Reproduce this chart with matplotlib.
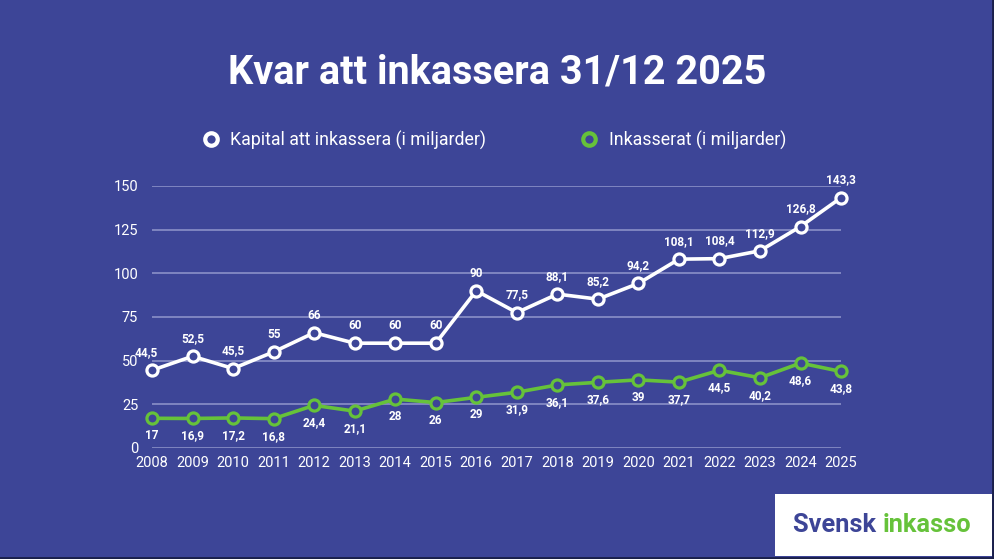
import matplotlib.pyplot as plt
from matplotlib.patches import Rectangle
from matplotlib.lines import Line2D

plt.rcParams['font.family'] = ['Roboto', 'DejaVu Sans']

years = list(range(2008, 2026))
kapital = [44.5, 52.5, 45.5, 55, 66, 60, 60, 60, 90, 77.5, 88.1, 85.2, 94.2,
           108.1, 108.4, 112.9, 126.8, 143.3]
inkasserat = [17, 16.9, 17.2, 16.8, 24.4, 21.1, 28, 26, 29, 31.9, 36.1, 37.6,
              39, 37.7, 44.5, 40.2, 48.6, 43.8]
y_ticks = [0, 25, 50, 75, 100, 125, 150]

BG = "#3d4597"
GREEN = "#66c23a"
GRID = "#8a90c8"


def fmt(v):
    s = f"{v:g}"
    return s.replace(".", ",")


fig = plt.figure(figsize=(9.95, 5.59), dpi=100, facecolor=BG)
ax = fig.add_axes([0.1528, 0.1986, 0.6925, 0.4687], facecolor=BG)

ax.plot(years, kapital, color="white", lw=2.6, marker="o", ms=8,
        mfc=BG, mec="white", mew=2.3, clip_on=False, zorder=3)
ax.plot(years, inkasserat, color=GREEN, lw=2.6, marker="o", ms=8,
        mfc=BG, mec=GREEN, mew=2.3, clip_on=False, zorder=3)

for x, v in zip(years, kapital):
    dx = -4 if x == 2008 else 0
    ax.annotate(fmt(v), (x, v), xytext=(dx, 8), textcoords="offset points",
                ha="center", va="bottom", color="white", fontsize=8.5,
                fontweight="bold")
for x, v in zip(years, inkasserat):
    ax.annotate(fmt(v), (x, v), xytext=(0, -8), textcoords="offset points",
                ha="center", va="top", color="white", fontsize=8.5,
                fontweight="bold")

ax.set_xlim(2008, 2025)
ax.set_ylim(0, 150)
ax.set_yticks(y_ticks)
ax.set_xticks(years)
ax.set_xticklabels([str(y) for y in years])
ax.grid(axis="y", color=GRID, lw=1.2)
ax.set_axisbelow(True)
for s in ax.spines.values():
    s.set_visible(False)
ax.tick_params(length=0, colors="white", labelsize=10.5)
ax.tick_params(axis="x", pad=6)
ax.tick_params(axis="y", pad=10)

fig.text(0.4995, 0.87, "Kvar att inkassera 31/12 2025", ha="center", va="center",
         color="white", fontsize=28.5, fontweight="bold")

handles = [
    Line2D([], [], color="white", marker="o", ms=9, mfc=BG, mec="white",
           mew=3, lw=0),
    Line2D([], [], color=GREEN, marker="o", ms=9, mfc=BG, mec=GREEN,
           mew=3, lw=0),
]
leg = fig.legend(handles, ["Kapital att inkassera (i miljarder)",
                           "Inkasserat (i miljarder)"],
                 loc="center", bbox_to_anchor=(0.4965, 0.749), ncol=2,
                 frameon=False, fontsize=12.8, columnspacing=5.3,
                 handletextpad=0.6, handlelength=1.0)
for t in leg.get_texts():
    t.set_color("white")

# logo box
fig.patches.append(Rectangle((0.779, 0.005), 0.218, 0.111,
                             transform=fig.transFigure, facecolor="white",
                             edgecolor="none", zorder=1))
t1 = fig.text(0.797, 0.06, "Svensk ", ha="left", va="center", color=BG,
              fontsize=18.3, fontweight="bold", zorder=2)
fig.canvas.draw()
bb = t1.get_window_extent().transformed(fig.transFigure.inverted())
fig.text(bb.x1, 0.06, "inkasso", ha="left", va="center", color=GREEN,
         fontsize=18.3, fontweight="bold", zorder=2)

# dark frame on right and bottom edges
fig.add_artist(Line2D([0.9975, 0.9975], [0, 1], transform=fig.transFigure,
                      color="#1a1f4a", lw=2))
fig.add_artist(Line2D([0, 1], [0.002, 0.002], transform=fig.transFigure,
                      color="#1a1f4a", lw=2))

fig.savefig("out.png", dpi=100, facecolor=BG)
